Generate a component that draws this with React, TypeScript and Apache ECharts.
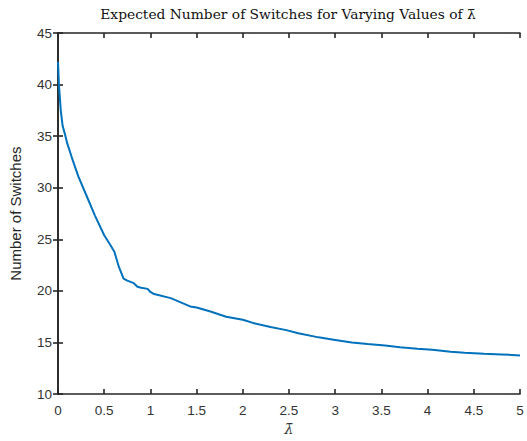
import React, { useEffect, useRef } from "react";
import * as echarts from "echarts";

const lambdaBar = [0, 0.01, 0.03, 0.05, 0.075, 0.1, 0.147, 0.22, 0.31, 0.4, 0.5, 0.57, 0.61, 0.66, 0.71, 0.75, 0.82, 0.86, 0.9, 0.97, 1.0, 1.04, 1.22, 1.43, 1.5, 1.65, 1.82, 2.0, 2.11, 2.3, 2.47, 2.6, 2.82, 3.0, 3.18, 3.35, 3.54, 3.7, 3.89, 4.05, 4.25, 4.4, 4.61, 4.8, 5.0];
const switches = [42.2, 40.0, 37.5, 36.0, 35.2, 34.3, 33.0, 31.1, 29.2, 27.3, 25.4, 24.4, 23.8, 22.3, 21.2, 21.0, 20.75, 20.4, 20.3, 20.2, 19.9, 19.7, 19.3, 18.5, 18.4, 18.0, 17.5, 17.2, 16.9, 16.5, 16.2, 15.9, 15.5, 15.25, 15.0, 14.85, 14.7, 14.55, 14.4, 14.3, 14.1, 14.0, 13.9, 13.85, 13.75];

const xTicks = { min: 0, max: 5, interval: 0.5 };
const yTicks = { min: 10, max: 45, interval: 5 };

const titleText = "Expected Number of Switches for Varying Values of λ\u0304";
const yName = "Number of Switches";
const xName = "λ\u0304";

export default function App() {
  const ref = useRef<HTMLDivElement>(null);
  useEffect(() => {
    const chart = echarts.init(ref.current!, null, { renderer: "svg" });
    const axisCommon = {
      axisLine: { show: true, lineStyle: { color: "#262626", width: 1.6 } },
      axisTick: { show: true, inside: true, length: 5, lineStyle: { color: "#262626", width: 1.6 } },
      splitLine: { show: false },
    };
    const labelStyle = { color: "#333333", fontFamily: "Liberation Sans", fontSize: 13.5 };
    chart.setOption({
      animation: false,
      backgroundColor: "#fff",
      grid: { left: 53, right: 7, top: 33, bottom: 38 },
      graphic: [
        {
          type: "text",
          x: 288,
          y: 14,
          style: {
            text: titleText,
            fill: "#111",
            font: "13.8px 'DejaVu Serif'",
            textAlign: "center",
            textVerticalAlign: "middle",
          },
        },
      ],
      xAxis: [
        {
          type: "value",
          ...xTicks,
          ...axisCommon,
          position: "bottom",
          axisLabel: { ...labelStyle, margin: 9, formatter: (v: number) => String(v) },
          name: xName,
          nameLocation: "middle",
          nameGap: 27,
          nameTextStyle: { fontFamily: "DejaVu Serif", fontStyle: "italic", fontSize: 14, color: "#333" },
        },
        {
          type: "value",
          ...xTicks,
          ...axisCommon,
          position: "top",
          axisLabel: { show: false },
        },
      ],
      yAxis: [
        {
          type: "value",
          ...yTicks,
          ...axisCommon,
          position: "left",
          axisLabel: { ...labelStyle, margin: 6 },
          name: yName,
          nameLocation: "middle",
          nameGap: 35,
          nameTextStyle: { fontFamily: "Liberation Sans", fontSize: 15, color: "#262626" },
        },
        {
          type: "value",
          ...yTicks,
          ...axisCommon,
          position: "right",
          axisLabel: { show: false },
        },
      ],
      series: [
        {
          type: "line",
          data: lambdaBar.map((x, i) => [x, switches[i]]),
          showSymbol: false,
          lineStyle: { color: "#0072BD", width: 2 },
          xAxisIndex: 0,
          yAxisIndex: 0,
        },
      ],
    });
    return () => chart.dispose();
  }, []);
  return <div ref={ref} style={{ width: 527, height: 441, position: "absolute", left: 0, top: 0 }} />;
}
